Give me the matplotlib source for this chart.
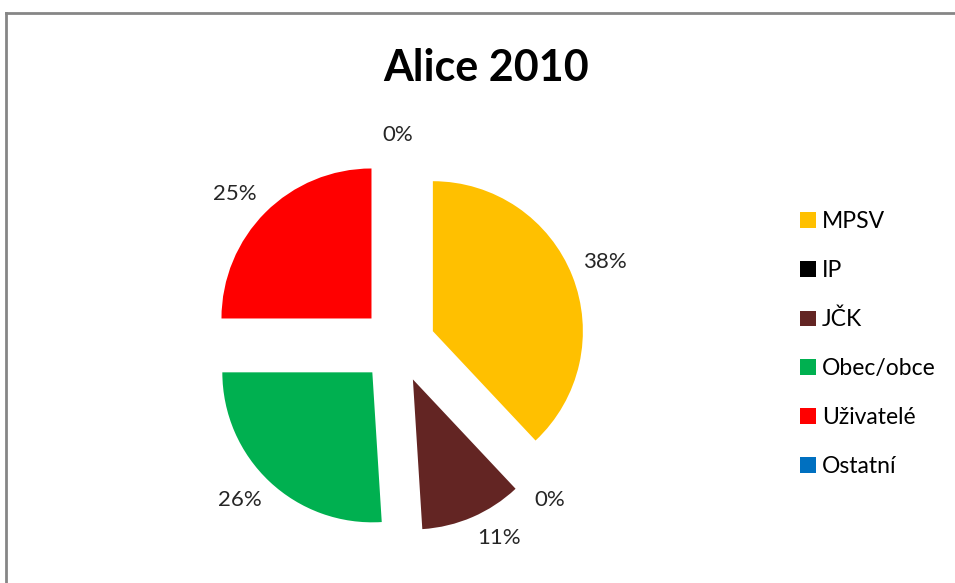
import numpy as np
import matplotlib
matplotlib.use("Agg")
import matplotlib.pyplot as plt
from matplotlib.lines import Line2D

plt.rcParams['font.family'] = ['Lato', 'DejaVu Sans']

# podíly zdrojů financování (%)
labels = ['MPSV', 'IP', 'JČK', 'Obec/obce', 'Uživatelé', 'Ostatní']
shares = [38, 0, 11, 26, 25, 0]
colors = ['#FFC000', '#000000', '#632523', '#00B050', '#FF0000', '#0070C0']
title = 'Alice 2010'

W, H = 955, 583
fig = plt.figure(figsize=(W / 100, H / 100), dpi=100)

# pie centre at (398, 345) px, radius 150 px
cx, cy, r = 398, H - 345, 150
ax = fig.add_axes([(cx - 2 * r) / W, (cy - 1.5 * r) / H, 4 * r / W, 3 * r / H])
wedges, texts, autotexts = ax.pie(
    shares, colors=colors, startangle=90, counterclock=False,
    explode=[0.25] * len(shares), autopct=lambda p: f'{p:.0f}%',
    pctdistance=1.1, radius=1,
    wedgeprops=dict(linewidth=0),
    textprops=dict(fontsize=16, color='#262626'))

# labels sit just outside the arc, anchored by the corner nearest the wedge
for w, t in zip(wedges, autotexts):
    ang = np.deg2rad((w.theta1 + w.theta2) / 2)
    dx, dy = np.cos(ang), np.sin(ang)
    x0, y0 = w.center
    t.set_position((x0 + 1.08 * dx, y0 + 1.08 * dy))
    t.set_ha('left' if dx > 0.2 else 'right' if dx < -0.2 else 'center')
    t.set_va('bottom' if dy > 0.2 else 'top' if dy < -0.2 else 'center')

ax.set_xlim(-2, 2)
ax.set_ylim(-1.5, 1.5)
ax.set_axis_off()

fig.text(486 / W, 1 - 68 / H, title, ha='center', va='center',
         fontsize=31, fontweight='bold')

fig.legend(wedges, labels, loc='upper left', bbox_to_anchor=(800 / W, 1 - 211 / H),
           frameon=False, fontsize=16.5, handlelength=0.68, handleheight=0.68,
           handletextpad=0.28, labelspacing=1.22, borderpad=0, borderaxespad=0)

# outer chart frame (left and top edges)
frame = dict(color='#868686', linewidth=2, transform=fig.transFigure)
fig.add_artist(Line2D([5.5 / W, 5.5 / W], [0, 1 - 13 / H], **frame))
fig.add_artist(Line2D([5.5 / W, 1], [1 - 13 / H, 1 - 13 / H], **frame))

fig.savefig('out.png', dpi=100, facecolor='white')
